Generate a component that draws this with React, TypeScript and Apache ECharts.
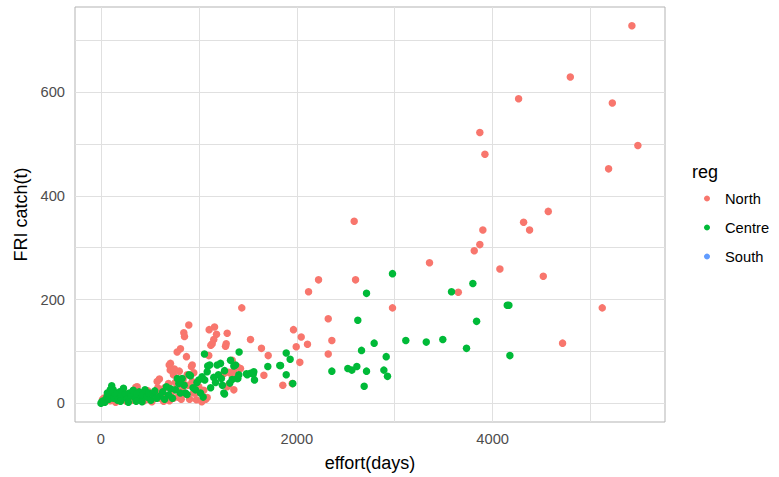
import React, { useEffect, useRef } from 'react';
import * as echarts from 'echarts';

const regions = ['North', 'Centre', 'South'];
const regionColors = ['#F8766D', '#00BA38', '#619CFF'];

const northPoints: [number, number][] = [
  [5422, 728], [4793, 629], [4265, 587], [5222, 579], [3869, 522], [3921, 480], [5483, 497], [5184, 452],
  [4568, 370], [4316, 349], [4377, 334], [3900, 334], [3869, 306], [3812, 294], [3355, 271], [4074, 259],
  [4517, 245], [3649, 214], [2977, 184], [5119, 184], [4714, 116],
  [2586, 351], [2222, 238], [2600, 238], [2120, 215], [2321, 163], [1966, 142], [2045, 128], [2358, 121],
  [2109, 114], [1994, 109], [2321, 95], [2031, 79], [1857, 35], [1953, 38],
  [1438, 184], [1160, 147], [1105, 142], [1180, 133], [1152, 123], [1122, 112], [1136, 115], [1289, 135],
  [1279, 115], [1272, 110], [1527, 123], [1639, 106], [1708, 92], [1101, 92], [1340, 83], [1391, 71],
  [1425, 67], [1357, 63], [1306, 60], [1254, 57], [1664, 54], [1289, 32], [1340, 53], [1357, 26],
  [1085, 11], [1306, 36],
  [897, 151], [846, 136], [853, 129], [812, 105], [778, 99], [873, 90], [932, 74], [948, 59], [924, 71],
  [932, 42], [965, 20], [975, 7], [945, 20], [839, 45], [880, 55], [710, 77], [697, 74], [707, 64],
  [750, 66], [740, 55], [760, 40], [800, 62], [790, 30], [830, 30], [860, 18], [890, 35], [905, 8],
  [1000, 32], [1030, 3], [1050, 25], [1070, 8],
  [15, 7], [29, 10], [45, 4], [70, 12], [95, 5], [120, 10], [150, 2], [180, 6], [210, 14], [233, 20],
  [260, 4], [290, 9], [320, 6], [356, 31], [370, 32], [390, 12], [417, 20], [440, 5], [470, 8], [500, 14],
  [520, 3], [545, 10], [574, 42], [597, 47], [580, 30], [610, 25], [630, 18], [650, 30], [660, 8],
  [680, 12], [690, 38], [720, 22], [770, 28], [785, 12], [600, 10], [640, 4], [700, 5], [740, 10],
  [820, 8], [560, 20], [480, 24], [300, 18],
];

const centrePoints: [number, number][] = [
  [2977, 250], [3798, 231], [3580, 215], [4149, 189], [4166, 189], [3836, 158], [3113, 121], [3322, 118],
  [3491, 123], [3733, 106], [4176, 92], [2913, 90], [2889, 64], [2926, 52], [2712, 212], [2623, 160],
  [2790, 116], [2661, 102], [2358, 62], [2521, 67], [2562, 64], [2613, 71], [2712, 62], [2688, 33],
  [1892, 97], [1932, 85], [1834, 73], [1892, 55], [1959, 38], [1411, 99], [1057, 95], [1374, 74],
  [1357, 72], [1527, 58], [1561, 61], [1486, 57], [1555, 56], [1568, 45], [1408, 55], [1704, 71],
  [1826, 73], [1262, 18], [1016, 20], [1111, 74], [1187, 74], [1221, 77], [1090, 72], [1323, 83],
  [1262, 63], [1085, 61], [1340, 46], [1398, 48], [1494, 55], [1255, 20], [1316, 39], [1391, 48],
  [1152, 50], [1200, 55], [1230, 48], [1170, 40], [1120, 30], [1240, 35], [1060, 45], [1044, 12],
  [1033, 51], [999, 45], [965, 26], [980, 40], [940, 30], [914, 53], [900, 55], [880, 17], [863, 20],
  [850, 35], [829, 48], [810, 20], [795, 38], [780, 48], [761, 26], [730, 10], [710, 28], [690, 16],
  [669, 32], [650, 8], [630, 22], [600, 14],
  [0, 0], [10, 3], [25, 5], [40, 2], [60, 12], [80, 8], [100, 18], [110, 34], [125, 26], [130, 10],
  [150, 15], [170, 6], [190, 22], [210, 12], [230, 29], [250, 18], [270, 8], [290, 20], [310, 14],
  [330, 25], [350, 10], [370, 18], [390, 22], [410, 9], [430, 16], [450, 26], [470, 12], [490, 20],
  [510, 6], [530, 18], [550, 24], [570, 10], [140, 20], [200, 4], [280, 2], [360, 4], [420, 3],
  [65, 20], [95, 26],
];

const southPoints: [number, number][] = [];

const xTicks = [0, 2000, 4000];
const yTicks = [0, 200, 400, 600];
const xGridValues = [0, 1000, 2000, 3000, 4000, 5000];
const yGridValues = [0, 100, 200, 300, 400, 500, 600, 700];

const FONT = "'Liberation Sans', Arial, sans-serif";

export default function App() {
  const ref = useRef<HTMLDivElement>(null);

  useEffect(() => {
    if (!ref.current) return;
    const chart = echarts.init(ref.current, null, { renderer: 'svg' });
    const seriesData = [northPoints, centrePoints, southPoints];
    chart.setOption({
      animation: false,
      backgroundColor: '#ffffff',
      textStyle: { fontFamily: FONT },
      grid: {
        left: 75,
        right: 114,
        top: 7,
        bottom: 52,
        show: true,
        borderColor: '#B3B3B3',
        borderWidth: 1,
        backgroundColor: 'transparent',
      },
      xAxis: {
        type: 'value',
        min: -265,
        max: 5760,
        axisLine: { show: false },
        splitLine: { show: false },
        axisTick: {
          show: true,
          customValues: xTicks,
          length: 5,
          lineStyle: { color: '#B3B3B3', width: 1 },
        },
        axisLabel: {
          customValues: xTicks,
          formatter: (v: number) => String(v),
          margin: 9,
          color: '#4D4D4D',
          fontSize: 14.7,
          fontFamily: FONT,
        },
        name: 'effort(days)',
        nameLocation: 'middle',
        nameGap: 32,
        nameTextStyle: { color: '#000000', fontSize: 18, fontFamily: FONT },
      },
      yAxis: {
        type: 'value',
        min: -36,
        max: 764,
        axisLine: { show: false },
        splitLine: { show: false },
        axisTick: {
          show: true,
          customValues: yTicks,
          length: 5,
          lineStyle: { color: '#B3B3B3', width: 1 },
        },
        axisLabel: {
          customValues: yTicks,
          formatter: (v: number) => String(v),
          margin: 10,
          color: '#4D4D4D',
          fontSize: 14.7,
          fontFamily: FONT,
        },
        name: 'FRI catch(t)',
        nameLocation: 'middle',
        nameGap: 42,
        nameTextStyle: { color: '#000000', fontSize: 18, fontFamily: FONT },
      },
      legend: {
        data: regions,
        orient: 'vertical',
        left: 704,
        top: 191,
        padding: 0,
        itemGap: 14,
        itemWidth: 6,
        itemHeight: 6,
        icon: 'circle',
        selectedMode: false,
        textStyle: { fontSize: 14.7, color: '#000000', fontFamily: FONT, padding: [0, 0, 0, 10] },
      },
      graphic: [
        {
          type: 'text',
          left: 692,
          top: 163,
          style: { text: 'reg', fontSize: 18, fill: '#000000', fontFamily: FONT },
        },
      ],
      series: [
        {
          name: 'gridlines',
          type: 'scatter',
          data: [],
          silent: true,
          z: 1,
          markLine: {
            z: 1,
            silent: true,
            symbol: ['none', 'none'],
            label: { show: false },
            emphasis: { disabled: true },
            lineStyle: { color: '#E0E0E0', width: 1, type: 'solid' },
            data: [
              ...xGridValues.map((v) => ({ xAxis: v })),
              ...yGridValues.map((v) => ({ yAxis: v })),
            ],
          },
        },
        ...regions.map((name, i) => ({
          name,
          type: 'scatter',
          data: seriesData[i],
          symbol: 'circle',
          symbolSize: 7.5,
          z: 3 + i,
          itemStyle: { color: regionColors[i], opacity: 1 },
          emphasis: { disabled: true },
        })),
      ],
    });
    return () => chart.dispose();
  }, []);

  return (
    <div
      ref={ref}
      style={{ position: 'absolute', left: 0, top: 0, width: 779, height: 477, background: '#ffffff' }}
    />
  );
}
